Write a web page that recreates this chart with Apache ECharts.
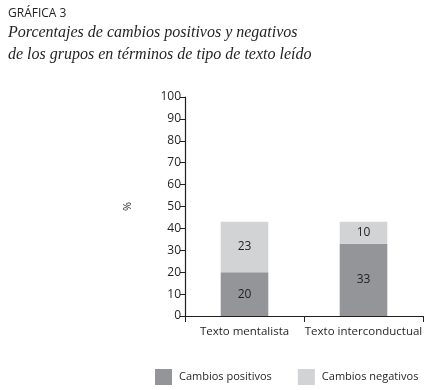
<!DOCTYPE html>
<html>
<head>
<meta charset="utf-8">
<script src="https://cdn.jsdelivr.net/npm/echarts@6/dist/echarts.min.js"></script>
<style>
  html, body { margin: 0; padding: 0; background: #fff; }
  #chart { width: 429px; height: 390px; }
</style>
</head>
<body>
<div id="chart"></div>
<script>
// datos de la gráfica
const categorias = ["Texto mentalista", "Texto interconductual"];
const positivos = [20, 33];
const negativos = [23, 10];
const yTicks = [0, 10, 20, 30, 40, 50, 60, 70, 80, 90, 100];

const chart = echarts.init(document.getElementById("chart"));

const sans = "'Open Sans', 'DejaVu Sans', sans-serif";

chart.setOption({
  backgroundColor: "#fff",
  animation: false,
  title: [
    {
      text: "GRÁFICA 3",
      left: 3,
      top: 3,
      textStyle: { fontFamily: sans, fontSize: 12, fontWeight: "normal", color: "#231f20" }
    },
    {
      text: "Porcentajes de cambios positivos y negativos\nde los grupos en términos de tipo de texto leído",
      left: 3,
      top: 17,
      textStyle: {
        fontFamily: "'Liberation Serif', serif",
        fontStyle: "italic",
        fontWeight: "normal",
        fontSize: 16,
        lineHeight: 22,
        color: "#231f20"
      }
    }
  ],
  legend: {
    left: 155,
    top: 369,
    width: 274,
    padding: 0,
    itemWidth: 17,
    itemHeight: 16,
    itemGap: 26,
    icon: "rect",
    textStyle: { fontFamily: sans, fontSize: 11, color: "#231f20", padding: [2, 0, 0, 2] },
    data: ["Cambios positivos", "Cambios negativos"]
  },
  grid: { left: 185, right: 6, top: 97, bottom: 74 },
  xAxis: {
    type: "category",
    data: categorias,
    axisLine: { lineStyle: { color: "#231f20", width: 1.2 } },
    axisTick: { show: true, length: 6, inside: false, lineStyle: { color: "#231f20" } },
    axisLabel: {
      interval: 0,
      hideOverlap: false,
      fontFamily: sans,
      fontSize: 11.5,
      color: "#231f20",
      margin: 10
    }
  },
  yAxis: {
    type: "value",
    min: 0,
    max: 100,
    interval: 10,
    name: "%",
    nameLocation: "middle",
    nameGap: 52,
    nameRotate: 90,
    nameTextStyle: { fontFamily: sans, fontSize: 11, color: "#231f20" },
    splitLine: { show: false },
    axisLine: { show: true, lineStyle: { color: "#231f20", width: 1.2 } },
    axisTick: { show: true, length: 5, lineStyle: { color: "#231f20" } },
    axisLabel: {
      fontFamily: sans,
      fontSize: 12,
      color: "#231f20",
      margin: 4,
      formatter: v => (yTicks.includes(v) ? String(v) : "")
    }
  },
  series: [
    {
      name: "Cambios positivos",
      type: "bar",
      stack: "total",
      data: positivos,
      barWidth: "40%",
      itemStyle: { color: "#939598" },
      label: { show: true, position: "inside", fontFamily: sans, fontSize: 12, color: "#231f20" }
    },
    {
      name: "Cambios negativos",
      type: "bar",
      stack: "total",
      data: negativos,
      barWidth: "40%",
      itemStyle: { color: "#d1d3d4" },
      label: { show: true, position: "inside", fontFamily: sans, fontSize: 12, color: "#231f20" }
    }
  ]
});
</script>
</body>
</html>
